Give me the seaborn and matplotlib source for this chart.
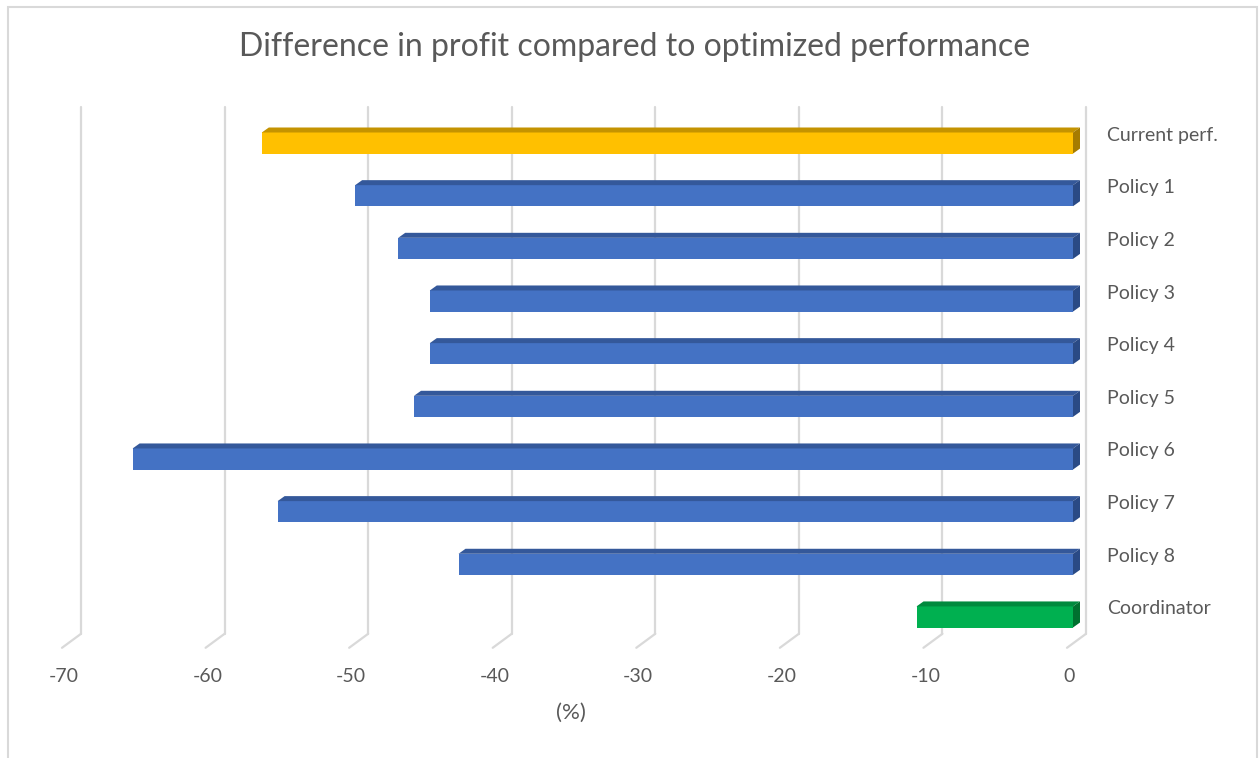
import matplotlib
matplotlib.use("Agg")
import matplotlib.pyplot as plt
from matplotlib.patches import Polygon, Rectangle
import pandas as pd
import seaborn as sns

# data
categories = ['Current perf.', 'Policy 1', 'Policy 2', 'Policy 3', 'Policy 4',
              'Policy 5', 'Policy 6', 'Policy 7', 'Policy 8', 'Coordinator']
values = [-56.5, -50.0, -47.0, -44.8, -44.8, -45.9, -65.5, -55.4, -42.8, -10.9]
groups = ['current', 'policy', 'policy', 'policy', 'policy',
          'policy', 'policy', 'policy', 'policy', 'coordinator']
x_ticks = [-70, -60, -50, -40, -30, -20, -10, 0]

front_colors = {'current': '#FFC000', 'policy': '#4472C4', 'coordinator': '#00B050'}
top_colors = {'current': '#C49300', 'policy': '#34589A', 'coordinator': '#008A3E'}
side_colors = {'current': '#A67C00', 'policy': '#2A4A85', 'coordinator': '#00702F'}
text_color = '#595959'
grid_color = '#D9D9D9'

sns.set_theme(style='white')
plt.rcParams['font.family'] = ['Lato', 'DejaVu Sans']

W, H = 1260, 758
fig = plt.figure(figsize=(W / 100, H / 100), dpi=100)
ax = fig.add_axes([68 / W, (H - 643.3) / H, 1005 / W, 526.6 / H])

df = pd.DataFrame({'name': categories, 'diff': values, 'group': groups})
sns.barplot(data=df, x='diff', y='name', hue='group', palette=front_colors,
            dodge=False, width=0.4, saturation=1, legend=False, ax=ax, zorder=3,
            edgecolor='none', linewidth=0)
ax.set_xlim(-70, 0)
ax.set_ylim(len(categories) - 0.5, -0.5)
ax.axis('off')

# pixel -> data scale (fixed axes, dpi 100)
px = 1005 / 70
py = 526.6 / len(categories)
ybot = len(categories) - 0.5
ytop = -0.5

# 3d-ish gridlines: back wall + floor diagonal
bx, by = 13 / px, 9.5 / py
fx, fy = 6 / px, 4.5 / py
for t in x_ticks:
    ax.plot([t + bx, t + bx], [ytop - by, ybot - by], color=grid_color, lw=1.6,
            zorder=0.5, clip_on=False)
    ax.plot([t + bx, t - fx], [ybot - by, ybot + fy], color=grid_color, lw=1.6,
            zorder=0.5, clip_on=False)
    ax.text(t - 4 / px, ybot + 33 / py, str(t), ha='center', va='center',
            fontsize=14, color=text_color)

ax.text(-35, ybot + 70 / py, '(%)', ha='center', va='center', fontsize=16, color=text_color)

# bar depth faces
dx, dy = 7 / px, 5 / py
for patch, g in zip(ax.patches, groups):
    x0 = patch.get_x()
    x1 = x0 + patch.get_width()
    left, right = min(x0, x1), max(x0, x1)
    top = patch.get_y()
    bot = top + patch.get_height()
    ax.add_patch(Polygon([(left, top), (right, top), (right + dx, top - dy), (left + dx, top - dy)],
                         closed=True, facecolor=top_colors[g], edgecolor='none', zorder=3,
                         clip_on=False))
    ax.add_patch(Polygon([(right, top), (right + dx, top - dy), (right + dx, bot - dy), (right, bot)],
                         closed=True, facecolor=side_colors[g], edgecolor='none', zorder=3,
                         clip_on=False))

# category labels on the right
for i, name in enumerate(categories):
    ax.text(34 / px, i - 2.5 / py, name, ha='left', va='baseline', fontsize=14,
            color=text_color)

fig.text(635 / W, 1 - 47 / H, 'Difference in profit compared to optimized performance',
         ha='center', va='center', fontsize=23, color=text_color)

# chart area border
fig.patches.append(Rectangle((8 / W, -0.01), 1249 / W, 1 - 7 / H + 0.01, transform=fig.transFigure,
                             fill=False, edgecolor=grid_color, lw=1.5))

fig.savefig('out.png', dpi=100)
